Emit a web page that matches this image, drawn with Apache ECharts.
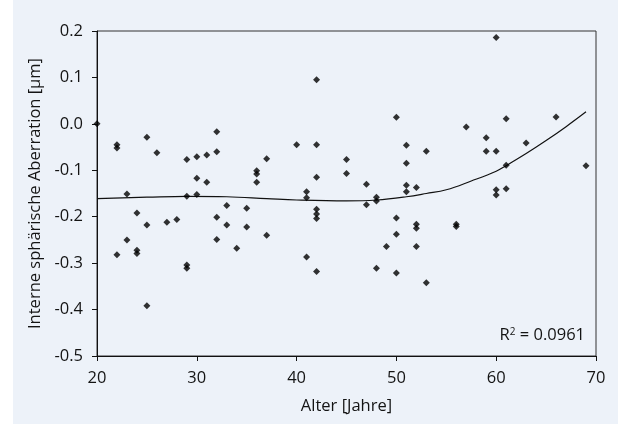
<!DOCTYPE html>
<html>
<head>
<meta charset="utf-8">
<script src="https://cdn.jsdelivr.net/npm/echarts@6/dist/echarts.min.js"></script>
<style>
  html, body { margin: 0; padding: 0; background: #ffffff; }
  #panel { position: absolute; left: 13px; top: 0; width: 605px; height: 424px; background: #edf2f9; }
  #chart { position: absolute; left: 0; top: 0; width: 618px; height: 425px; }
</style>
</head>
<body>
<div id="panel"></div>
<div id="chart"></div>
<script>
// Scatter data: age (years) and internal spherical aberration (µm)
const ages = [
  20,
  22, 22, 22,
  23, 23,
  24, 24, 24,
  25, 25, 25,
  26, 27, 28,
  29, 29, 29, 29,
  30, 30, 30,
  31, 31,
  32, 32, 32, 32,
  33, 33, 34, 35, 35,
  36, 36, 36,
  37, 37, 40,
  41, 41, 41,
  42, 42, 42, 42, 42, 42, 42,
  45, 45, 47, 47,
  48, 48, 48, 49,
  50, 50, 50, 50,
  51, 51, 51, 51,
  52, 52, 52, 52,
  53, 53, 56, 56, 57,
  59, 59,
  60, 60, 60, 60,
  61, 61, 61,
  63, 66, 69
];
const aberration = [
  0.0,
  -0.045, -0.052, -0.282,
  -0.151, -0.25,
  -0.192, -0.272, -0.279,
  -0.029, -0.218, -0.392,
  -0.062, -0.212, -0.206,
  -0.077, -0.156, -0.304, -0.311,
  -0.071, -0.117, -0.152,
  -0.067, -0.126,
  -0.017, -0.06, -0.201, -0.249,
  -0.176, -0.218, -0.268, -0.182, -0.222,
  -0.101, -0.108, -0.126,
  -0.075, -0.24, -0.045,
  -0.146, -0.159, -0.287,
  0.095, -0.045, -0.115, -0.184, -0.194, -0.204, -0.318,
  -0.077, -0.107, -0.13, -0.174,
  -0.158, -0.166, -0.311, -0.264,
  0.014, -0.203, -0.238, -0.321,
  -0.046, -0.085, -0.132, -0.146,
  -0.137, -0.216, -0.225, -0.264,
  -0.059, -0.342, -0.216, -0.221, -0.007,
  -0.03, -0.059,
  0.186, -0.059, -0.142, -0.153,
  0.011, -0.089, -0.14,
  -0.041, 0.015, -0.09
];
// Trend line
const trendAges   = [20, 25, 29, 33, 37, 40, 45, 48, 51, 53, 55, 57.5, 60, 61, 63, 65, 67, 69];
const trendValues = [-0.161, -0.158, -0.156, -0.157, -0.161, -0.164, -0.166, -0.164, -0.157, -0.150, -0.142, -0.123, -0.102, -0.090, -0.064, -0.036, -0.006, 0.026];

const xTicks = [20, 30, 40, 50, 60, 70];
const yTicks = [-0.5, -0.4, -0.3, -0.2, -0.1, 0.0, 0.1, 0.2];
const r2Label = '0.0961';

const font = '"Open Sans", "Noto Sans", sans-serif';
const txt = '#141414';
const fs = 16.5;

const chart = echarts.init(document.getElementById('chart'), null, { renderer: 'canvas' });
chart.setOption({
  backgroundColor: 'transparent',
  animation: false,
  grid: { left: 97, right: 22, top: 31, bottom: 69, show: true, borderColor: '#333', borderWidth: 1, backgroundColor: 'transparent' },
  xAxis: {
    type: 'value',
    min: xTicks[0], max: xTicks[xTicks.length - 1], interval: 10,
    name: 'Alter [Jahre]', nameLocation: 'middle', nameGap: 42,
    nameTextStyle: { color: txt, fontSize: fs, fontFamily: font },
    axisLine: { show: true, onZero: false, lineStyle: { color: '#111', width: 1 } },
    axisTick: { show: true, length: 5, lineStyle: { color: '#111' } },
    axisLabel: { color: txt, fontSize: fs, fontFamily: font, margin: 14 },
    splitLine: { show: false }
  },
  yAxis: {
    type: 'value',
    min: yTicks[0], max: yTicks[yTicks.length - 1], interval: 0.1,
    name: 'Interne sphärische Aberration [µm]', nameLocation: 'middle', nameGap: 52,
    nameTextStyle: { color: txt, fontSize: fs, fontFamily: font },
    axisLine: { show: true, onZero: false, lineStyle: { color: '#111', width: 1 } },
    axisTick: { show: true, length: 5, lineStyle: { color: '#111' } },
    axisLabel: { color: txt, fontSize: fs, fontFamily: font, margin: 14,
      formatter: v => (Math.abs(v) < 1e-9 ? 0 : v).toFixed(1) },
    splitLine: { show: false }
  },
  series: [
    {
      type: 'line',
      data: trendAges.map((a, i) => [a, trendValues[i]]),
      smooth: 0.4,
      showSymbol: false,
      lineStyle: { color: '#111', width: 1.2 },
      z: 2
    },
    {
      type: 'scatter',
      data: ages.map((a, i) => [a, aberration[i]]),
      symbol: 'diamond',
      symbolSize: 7,
      itemStyle: { color: '#000' },
      z: 3
    }
  ],
  graphic: [{
    type: 'text',
    right: 33, top: 327,
    style: {
      text: 'R{s|2} = ' + r2Label,
      font: fs + 'px ' + font,
      fill: txt,
      rich: { s: { fontSize: 10, fontFamily: font, verticalAlign: 'top', padding: [0, 0, 7, 0], fill: txt } }
    }
  }]
});
</script>
</body>
</html>
